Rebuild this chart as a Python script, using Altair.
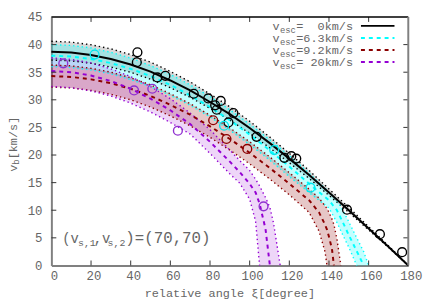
import altair as alt
import pandas as pd

FONT = "Liberation Mono"
TXT = "#666666"
W, H = 362, 252

# ---------------- data ----------------
xi_black = [0, 10, 20, 30, 40, 50, 60, 70, 80, 90, 100, 110, 120, 130, 140, 150, 160, 170, 180]
black_c = [38.7, 38.55, 38.1, 37.4, 36.4, 35.1, 33.5, 31.7, 29.6, 27.4, 24.9, 22.2, 19.35, 16.4, 13.2, 10.0, 6.7, 3.4, 0.0]
black_u = [40.6, 40.44, 39.97, 39.23, 38.18, 36.82, 35.14, 33.25, 31.05, 28.74, 26.12, 23.29, 20.3, 17.2, 13.85, 10.49, 7.03, 3.57, 0.0]
black_l = [37.2, 37.05, 36.61, 35.94, 34.98, 33.73, 32.19, 30.46, 28.45, 26.33, 23.93, 21.33, 18.6, 15.76, 12.69, 9.61, 6.44, 3.27, 0.0]

xi_cyan = [0, 10, 20, 30, 40, 50, 60, 70, 80, 90, 100, 110, 120, 130, 140, 144, 147, 150, 154, 157.5, 160]
cyan_c = [38.0, 37.85, 37.4, 36.65, 35.6, 34.3, 32.7, 30.8, 28.7, 26.3, 23.7, 20.9, 17.9, 14.8, 11.8, 10.0, 7.8, 5.5, 2.6, 0.0, 0.0]
cyan_u = [40.0, 39.85, 39.4, 38.6, 37.55, 36.2, 34.6, 32.7, 30.6, 28.2, 25.6, 22.8, 19.9, 16.7, 13.3, 11.8, 10.0, 7.9, 5.0, 2.5, 0.0]
cyan_l = [36.0, 35.85, 35.4, 34.7, 33.65, 32.4, 30.8, 29.0, 26.9, 24.5, 21.9, 19.1, 16.1, 13.2, 10.4, 7.8, 5.5, 3.3, 0.0, 0.0, 0.0]

xi_red = [0, 10, 20, 30, 40, 50, 60, 70, 80, 90, 100, 110, 120, 130, 135, 138, 139, 140, 141.5, 142.5, 144, 146]
red_c = [34.3, 34.15, 33.7, 33.0, 32.0, 30.7, 29.1, 27.3, 25.2, 22.9, 20.4, 17.7, 14.8, 11.8, 9.6, 7.4, 6.5, 5.2, 3.0, 0.0, 0.0, 0.0]
red_u = [36.3, 36.15, 35.7, 35.0, 34.0, 32.7, 31.1, 29.3, 27.2, 24.9, 22.4, 19.7, 16.8, 13.8, 12.2, 10.8, 10.3, 9.6, 8.4, 7.4, 4.8, 0.0]
red_l = [32.3, 32.15, 31.7, 31.0, 30.0, 28.7, 27.1, 25.3, 23.2, 20.9, 18.4, 15.7, 12.8, 9.6, 6.2, 2.5, 0.0, 0.0, 0.0, 0.0, 0.0, 0.0]

xi_purple = [0, 10, 20, 30, 40, 50, 60, 70, 80, 90, 95, 100, 103, 105, 108, 110.2, 112, 115.4]
purple_c = [35.2, 35.0, 34.4, 33.4, 32.0, 30.2, 28.1, 25.6, 22.4, 18.8, 16.9, 14.8, 13.2, 11.2, 6.6, 0.0, 0.0, 0.0]
purple_u = [37.6, 37.3, 36.7, 35.6, 34.2, 32.4, 30.2, 27.6, 24.6, 20.9, 19.0, 17.2, 15.6, 14.4, 12.3, 10.5, 7.75, 0.0]
purple_l = [32.4, 32.2, 31.6, 30.7, 29.4, 27.8, 25.9, 23.8, 20.3, 16.6, 14.9, 12.0, 8.0, 0.0, 0.0, 0.0, 0.0, 0.0]

black_px = [43.4, 43.1, 53.4, 57.5, 71.8, 79.1, 85.4, 82.6, 83.4, 91.8, 89.3, 103.5, 117.5, 121.0, 123.5, 149.1, 165.7, 176.9]
black_py = [38.6, 36.8, 34.05, 34.35, 31.1, 30.25, 29.8, 29.0, 28.2, 27.6, 25.9, 23.3, 19.5, 19.8, 19.35, 10.1, 5.66, 2.4]
cyan_px = [21.8, 87.1, 112.4, 130.7]
cyan_py = [38.2, 25.3, 20.9, 14.1]
red_px = [81.6, 88.3, 98.8]
red_py = [26.3, 22.9, 21.1]
purple_px = [6.0, 41.7, 50.9, 63.8, 107.0]
purple_py = [36.6, 31.7, 32.0, 24.4, 10.7]

x_ticks = list(range(0, 181, 20))
y_ticks = list(range(0, 46, 5))
legend_labels = ["=\u00a0\u00a00km/s", "=6.3km/s", "=9.2km/s", "=\u00a020km/s"]

# ---------------- scales / axes ----------------
xs = alt.Scale(domain=[0, 180], nice=False, zero=False)
ys = alt.Scale(domain=[0, 45], nice=False, zero=False)
xax = alt.Axis(values=x_ticks, ticks=False, grid=False, labels=False, domainColor="#808080",
               domainWidth=2, title=None)
yax = alt.Axis(values=y_ticks, ticks=False, grid=False, labels=False, domainColor="#808080",
               domainWidth=2, title=None)


def X(f):
    return alt.X(f, type="quantitative", scale=xs, axis=xax)


def Y(f):
    return alt.Y(f, type="quantitative", scale=ys, axis=yax)


def trimmed(xi, v):
    out_x, out_v = [], []
    for a, b in zip(xi, v):
        out_x.append(a)
        out_v.append(b)
        if b == 0:
            break
    return pd.DataFrame({"xi": out_x, "v": out_v})


series = [
    (xi_black, black_c, black_u, black_l, "#000000", "#808080", 0.3, None),
    (xi_cyan, cyan_c, cyan_u, cyan_l, "#00ffff", "#00ffff", 0.24, [4, 4]),
    (xi_red, red_c, red_u, red_l, "#8b0000", "#8b0000", 0.22, [4, 4]),
    (xi_purple, purple_c, purple_u, purple_l, "#9400d3", "#9400d3", 0.16, [4, 4]),
]

areas, edges, centres = [], [], []
for xi, c, u, l, col, fill, op, dash in series:
    df = pd.DataFrame({"xi": xi, "u": u, "l": l})
    areas.append(alt.Chart(df).mark_area(color=fill, opacity=op).encode(
        x=X("xi"), y=Y("u"), y2="l"))
    for arr in (u, l):
        edges.append(alt.Chart(trimmed(xi, arr)).mark_line(
            color=col, strokeWidth=1.4, strokeDash=[1.4, 3]).encode(x=X("xi"), y=Y("v")))
    if dash is None:
        centres.append(alt.Chart(trimmed(xi, c)).mark_line(color=col, strokeWidth=2).encode(
            x=X("xi"), y=Y("v")))
    else:
        centres.append(alt.Chart(trimmed(xi, c)).mark_line(color=col, strokeWidth=2,
                                                           strokeDash=dash).encode(
            x=X("xi"), y=Y("v")))

pts = []
for px, py, col in [(black_px, black_py, "#000000"), (cyan_px, cyan_py, "#00e8f0"),
                    (red_px, red_py, "#8b0000"), (purple_px, purple_py, "#9030d0")]:
    pts.append(alt.Chart(pd.DataFrame({"xi": px, "v": py})).mark_point(
        shape="circle", filled=False, size=80, strokeWidth=1.4, color=col, opacity=1).encode(
        x=X("xi"), y=Y("v")))

# inward ticks and tick labels
xt = pd.DataFrame({"t": x_ticks[1:-1]})
yt = pd.DataFrame({"t": y_ticks[1:-1]})
xl = pd.DataFrame({"t": x_ticks})
yl = pd.DataFrame({"t": y_ticks})
ticks = [
    alt.Chart(xt).mark_rule(color="#333", strokeWidth=1).encode(x=X("t"), y=alt.value(H), y2=alt.value(H - 5)),
    alt.Chart(xt).mark_rule(color="#333", strokeWidth=1).encode(x=X("t"), y=alt.value(0), y2=alt.value(5)),
    alt.Chart(yt).mark_rule(color="#333", strokeWidth=1).encode(y=Y("t"), x=alt.value(0), x2=alt.value(5)),
    alt.Chart(yt).mark_rule(color="#333", strokeWidth=1).encode(y=Y("t"), x=alt.value(W), x2=alt.value(W - 5)),
    alt.Chart(xl).mark_text(font=FONT, fontSize=12.5, color=TXT, align="center", baseline="alphabetic",
                            dx=3).encode(x=X("t"), y=alt.value(H + 15), text="t:Q"),
    alt.Chart(yl).mark_text(font=FONT, fontSize=12.5, color=TXT, align="right", baseline="alphabetic",
                            dy=4.5).encode(y=Y("t"), x=alt.value(-9), text="t:Q"),
]
one = pd.DataFrame({"a": [0]})
borders = [
    alt.Chart(one).mark_rule(color="#000", strokeWidth=1.5).encode(x=alt.value(0), x2=alt.value(W), y=alt.value(0)),
    alt.Chart(one).mark_rule(color="#808080", strokeWidth=2).encode(x=alt.value(W), y=alt.value(0), y2=alt.value(H)),
]

# legend
leg = []
leg_cols = ["#000000", "#00ffff", "#8b0000", "#9400d3"]
for i, (lab, col) in enumerate(zip(legend_labels, leg_cols)):
    ylin = 9 + 12.2 * i
    yb = 13.3 + 12.2 * i
    if i == 0:
        leg.append(alt.Chart(one).mark_rule(color=col, strokeWidth=2).encode(
            x=alt.value(314), x2=alt.value(348), y=alt.value(ylin)))
    else:
        leg.append(alt.Chart(one).mark_rule(color=col, strokeWidth=2, strokeDash=[4, 4]).encode(
            x=alt.value(314), x2=alt.value(348), y=alt.value(ylin)))
    leg.append(alt.Chart(one).mark_text(text=lab, font=FONT, fontSize=12, color=TXT, align="right",
                                        baseline="alphabetic").encode(x=alt.value(306), y=alt.value(yb)))
    leg.append(alt.Chart(one).mark_text(text="esc", font=FONT, fontSize=9, color=TXT, align="right",
                                        baseline="alphabetic").encode(x=alt.value(248), y=alt.value(yb + 2.5)))
    leg.append(alt.Chart(one).mark_text(text="v", font=FONT, fontSize=12, color=TXT, align="right",
                                        baseline="alphabetic").encode(x=alt.value(231.5), y=alt.value(yb)))

# annotation (v_{s,1},v_{s,2})=(70,70)
ann = []
ab = 229
for t, xx, fs, dy in [("(v", 11, 14, 0), ("s,1", 27, 10, 3), (",v", 43, 14, 0), ("s,2", 57, 10, 3),
                      (")=(70,70)", 75, 16, 0)]:
    ann.append(alt.Chart(one).mark_text(text=t, font=FONT, fontSize=fs, color=TXT, align="left",
                                        baseline="alphabetic").encode(x=alt.value(xx), y=alt.value(ab + dy)))

# axis titles
titles = [
    alt.Chart(one).mark_text(text="relative angle ξ[degree]", font=FONT, fontSize=12, color=TXT,
                             align="center", baseline="alphabetic").encode(x=alt.value(181), y=alt.value(284)),
    alt.Chart(one).mark_text(text="v", font=FONT, fontSize=12, color=TXT, align="left", angle=270,
                             baseline="alphabetic").encode(x=alt.value(-35), y=alt.value(157)),
    alt.Chart(one).mark_text(text="b", font=FONT, fontSize=9, color=TXT, align="left", angle=270,
                             baseline="alphabetic").encode(x=alt.value(-32.5), y=alt.value(149.8)),
    alt.Chart(one).mark_text(text="[km/s]", font=FONT, fontSize=12, color=TXT, align="left", angle=270,
                             baseline="alphabetic").encode(x=alt.value(-35), y=alt.value(144.4)),
]

chart = alt.layer(*areas, *edges, *centres, *pts, *ticks, *borders, *leg, *ann, *titles).properties(
    width=W, height=H,
    padding={"left": 44, "top": 7, "right": 20, "bottom": 38},
    autosize=alt.AutoSizeParams(type="none"),
).configure_view(stroke=None)

chart.save("out.html", embed_options={"renderer": "svg", "actions": False})
